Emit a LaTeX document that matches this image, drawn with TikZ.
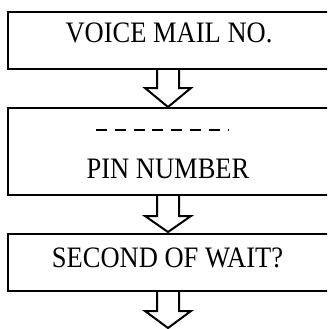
\documentclass[tikz,border=0pt]{standalone}
\usepackage{fontspec}
\setmainfont{Liberation Serif}
\usetikzlibrary{calc}
\begin{document}
\begin{tikzpicture}[x=1pt,y=-1pt,
  box/.style={draw, line width=2pt, rectangle, minimum width=340pt, inner sep=0pt, anchor=north west},
  lbl/.style={inner sep=0pt, anchor=center},
  blk/.style={draw, line width=2pt, line join=miter}]
\useasboundingbox (0,0) rectangle (327,329);
\clip (0,0) rectangle (327,329);
\node[box, minimum height=57pt] (b1) at (7,11) {};
\node[box, minimum height=87pt] (b2) at (7,107) {};
\node[box, minimum height=57pt] (b3) at (7,233) {};
\node[lbl] (t1) at (169,33) {\scalebox{1}[1.12]{\fontsize{26.5pt}{30pt}\selectfont VOICE MAIL NO.}};
\node[lbl] (t2) at (168,169) {\scalebox{1}[1.12]{\fontsize{26.5pt}{30pt}\selectfont PIN NUMBER}};
\node[lbl] (t3) at (167.5,258) {\scalebox{1}[1.12]{\fontsize{26.5pt}{30pt}\selectfont SECOND OF WAIT?}};
\coordinate (d1) at (96,130);
\coordinate (d2) at (228.6,130);
\draw[line width=2.2pt, dash pattern=on 11pt off 7.8pt] (d1) -- (d2);
\coordinate (ax) at (168,0);
\draw[blk] ($(b1.south -| ax)+(-11,0)$) -- ++(0,18) -- ++(-12,0) -- ++(23,19) -- ++(23,-19) -- ++(-12,0) -- ++(0,-18);
\draw[blk] ($(b2.south -| ax)+(-11,0)$) -- ++(0,20) -- ++(-12,0) -- ++(23,16) -- ++(23,-16) -- ++(-12,0) -- ++(0,-20);
\draw[blk] ($(b3.south -| ax)+(-11,0)$) -- ++(0,19) -- ++(-12,0) -- ++(23,17) -- ++(23,-17) -- ++(-12,0) -- ++(0,-19);
\end{tikzpicture}
\end{document}
